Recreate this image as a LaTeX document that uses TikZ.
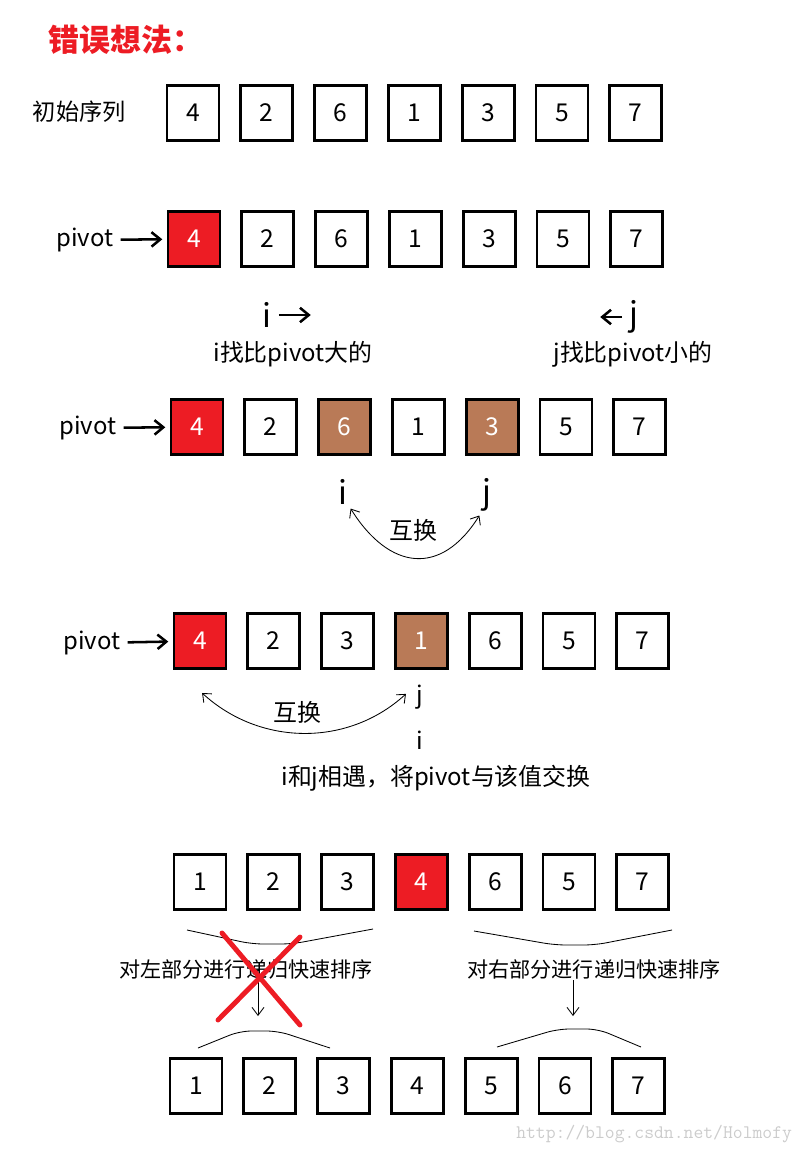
\documentclass[tikz,border=0pt]{standalone}
\usepackage{fontspec}
\setmainfont{Noto Sans CJK SC}
\usepackage{xcolor}
\usepackage{tikz}
\usetikzlibrary{arrows.meta,calc}
\definecolor{pivotred}{RGB}{237,28,36}
\definecolor{swapbrown}{RGB}{185,122,87}

\begin{document}
\begin{tikzpicture}[
        x=0.025cm, y=-0.025cm,
        cell/.style = {draw, line width=2.1pt, minimum width=1.3cm, minimum height=1.38cm, inner sep=0pt, font=\fontsize{17.5}{17.5}\selectfont},
        txt/.style  = {inner sep=1pt, font=\fontsize{17}{20}\selectfont},
        big/.style  = {inner sep=1pt, font=\fontsize{23}{23}\selectfont},
        note/.style = {inner sep=1pt, font=\fontsize{15}{18}\selectfont},
        ptr/.style  = {-{Straight Barb[length=2.2mm,width=3.6mm]}, line width=1.8pt, shorten <=4pt, shorten >=3pt},
        swap/.style = {{Straight Barb[length=1.8mm,width=3mm]}-{Straight Barb[length=1.8mm,width=3mm]}, line width=0.6pt, shorten <=2pt, shorten >=2pt},
        dn/.style   = {-{Straight Barb[length=2mm,width=3mm]}, line width=0.6pt},
        brace/.style = {line width=0.6pt, rounded corners=8pt},
        cross/.style = {pivotred, line width=3.5pt, line cap=round}
    ]
        \useasboundingbox (0,0) rectangle (800,1152);

        \node[anchor=west, text=pivotred, font=\fontsize{22}{22}\selectfont\bfseries] (ttl) at (44,40) {错误想法：};
        \node[anchor=west, font=\fontsize{16.5}{18}\selectfont] (init) at (28,112) {初始序列};

        \foreach \v/\f/\t [count=\k] in {4/white/black,2/white/black,6/white/black,1/white/black,3/white/black,5/white/black,7/white/black}
            \node[cell, fill=\f, text=\t] (r1-\k) at ({193+73.8*(\k-1)},113) {\v};

        \foreach \v/\f/\t [count=\k] in {4/pivotred/white,2/white/black,6/white/black,1/white/black,3/white/black,5/white/black,7/white/black}
            \node[cell, fill=\f, text=\t] (r2-\k) at ({194+73.8*(\k-1)},239) {\v};
        \node[txt] (p2) at (85,240) {pivot};
        \draw[ptr] (p2) -- (r2-1);

        \node[big] (i2) at (267,315) {i};
        \coordinate (i2e) at (315,315);
        \draw[ptr] (i2) -- (i2e);
        \node[big] (j2) at (634,317) {j};
        \coordinate (j2w) at (596,317);
        \draw[ptr] (j2) -- (j2w);
        \node[txt] (d2i) at (293,354) {i找比pivot大的};
        \node[txt] (d2j) at (633,354) {j找比pivot小的};

        \foreach \v/\f/\t [count=\k] in {4/pivotred/white,2/white/black,6/swapbrown/white,1/white/black,3/swapbrown/white,5/white/black,7/white/black}
            \node[cell, fill=\f, text=\t] (r3-\k) at ({197+73.8*(\k-1)},427) {\v};
        \node[txt] (p3) at (88,428) {pivot};
        \draw[ptr] (p3) -- (r3-1);
        \node[big] (i3) at (343,492) {i};
        \node[big] (j3) at (487,495) {j};
        \draw[swap] (i3.south east) .. controls +(40,64) and +(-40,64) .. (j3.south west);
        \node[txt] (sw3) at (413,530) {互换};

        \foreach \v/\f/\t [count=\k] in {4/pivotred/white,2/white/black,3/white/black,1/swapbrown/white,6/white/black,5/white/black,7/white/black}
            \node[cell, fill=\f, text=\t] (r4-\k) at ({200+73.8*(\k-1)},641) {\v};
        \node[txt] (p4) at (92,643) {pivot};
        \draw[ptr] (p4) -- (r4-1);
        \node[txt] (j4) at (420,697) {j};
        \node[txt] (i4) at (420,740) {i};
        \draw[swap] ($(r4-1.south)+(0,21)$) .. controls +(60,55) and +(-60,55) .. ($(j4.west)+(-7,-5)$);
        \node[txt] (sw4) at (297,712) {互换};
        \node[txt] (meet) at (436,778) {i和j相遇，将pivot与该值交换};

        \foreach \v/\f/\t [count=\k] in {1/white/black,2/white/black,3/white/black,4/pivotred/white,6/white/black,5/white/black,7/white/black}
            \node[cell, fill=\f, text=\t] (r5-\k) at ({200+73.8*(\k-1)},882) {\v};

        \draw[brace] (187,930) -- (252,944) -- (292,944) -- (373,929);
        \draw[brace] (474,931) -- (555,945) -- (595,945) -- (672,930);
        \node[note] (lt) at (246,969) {对左部分进行递归快速排序};
        \node[note] (rt) at (594,969) {对右部分进行递归快速排序};
        \coordinate (ld) at (258,1016);
        \coordinate (rd) at (573,1016);
        \draw[dn] (lt.south -| ld) -- (ld);
        \draw[dn] (rt.south -| rd) -- (rd);
        \draw[brace] (198,1048) -- (240,1031) -- (278,1031) -- (330,1048);
        \draw[brace] (497,1047) -- (558,1029) -- (598,1029) -- (641,1047);
        \draw[cross] (222,933) -- (300,1025);
        \draw[cross] (300,937) -- (218,1020);

        \foreach \v [count=\k] in {1,2,3,4,5,6,7}
            \node[cell] (r6-\k) at ({196+73.8*(\k-1)},1086) {\v};

        \node[anchor=east, text=black!20, font=\ttfamily\fontsize{13.6}{14}\selectfont] (wm) at (797,1134) {http://blog.csdn.net/Holmofy};
    \end{tikzpicture}
\end{document}
